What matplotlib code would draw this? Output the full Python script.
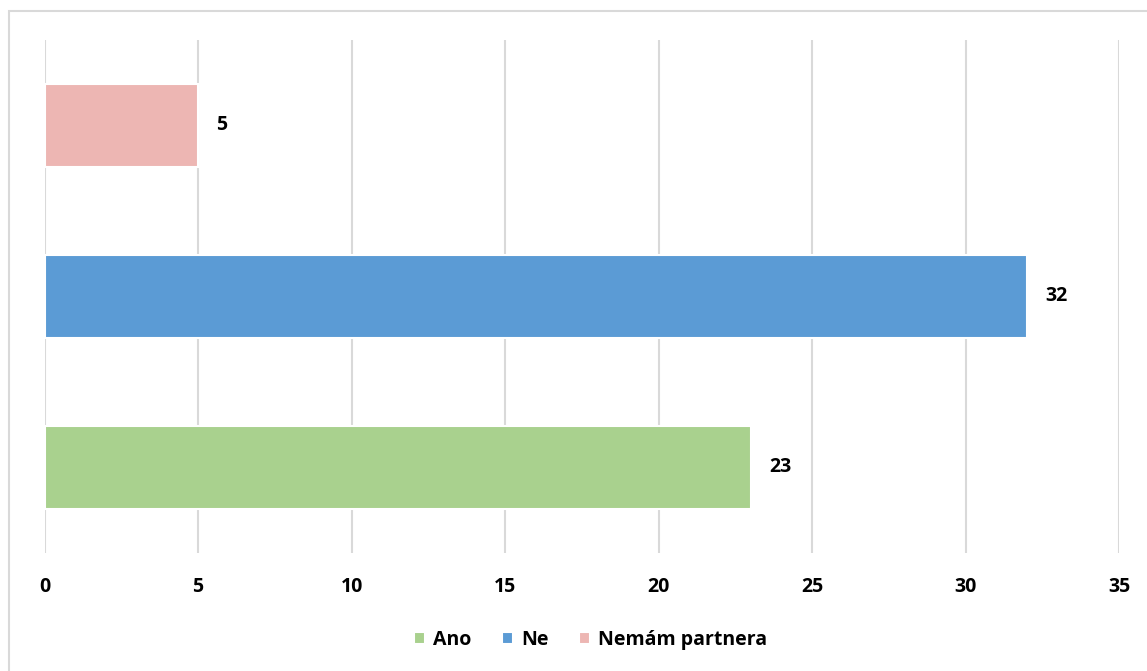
import matplotlib.pyplot as plt
from matplotlib.patches import Rectangle

plt.rcParams['font.family'] = ['Open Sans', 'DejaVu Sans']
plt.rcParams['font.weight'] = 'bold'

# survey answers, bottom to top
labels = ['Ano', 'Ne', 'Nemám partnera']
values = [23, 32, 5]
colors = ['#A9D18E', '#5B9BD5', '#EDB6B3']
xticks = [0, 5, 10, 15, 20, 25, 30, 35]

fig = plt.figure(figsize=(11.47, 6.71), dpi=100)
ax = fig.add_axes([0.0388, 0.1759, 0.9372, 0.7645])

bars = []
for i, (lab, val, col) in enumerate(zip(labels, values, colors)):
    b = ax.barh(i, val, height=0.48, color=col, edgecolor='white',
                linewidth=1.5, label=lab, zorder=3)
    bars.append(b)
    ax.annotate(str(val), xy=(val, i), xytext=(13, 0), textcoords='offset points',
                ha='left', va='center', fontsize=14, fontweight='bold', color='black')

ax.set_xlim(0, 35)
ax.set_ylim(-0.5, 2.5)
ax.set_xticks(xticks)
ax.set_yticks([])
ax.xaxis.grid(True, color='#D9D9D9', linewidth=1.5, zorder=0)
ax.tick_params(axis='x', length=0, pad=17, labelsize=14)
for lbl in ax.get_xticklabels():
    lbl.set_fontweight('bold')
for s in ax.spines.values():
    s.set_visible(False)

fig.legend(handles=[b[0] for b in bars], labels=labels, loc='center',
           bbox_to_anchor=(0.515, 0.046), ncol=3, frameon=False,
           handlelength=0.55, handleheight=0.55, handletextpad=0.4, columnspacing=1.6,
           prop={'family': ['Open Sans', 'DejaVu Sans'], 'weight': 'bold', 'size': 14})

# outer chart frame
fig.patches.append(Rectangle((9 / 1147, -0.05), 1.1, 1 - 11 / 671 + 0.05,
                             transform=fig.transFigure, fill=False,
                             edgecolor='#D9D9D9', linewidth=1.5))

fig.savefig('out.png', dpi=100)
